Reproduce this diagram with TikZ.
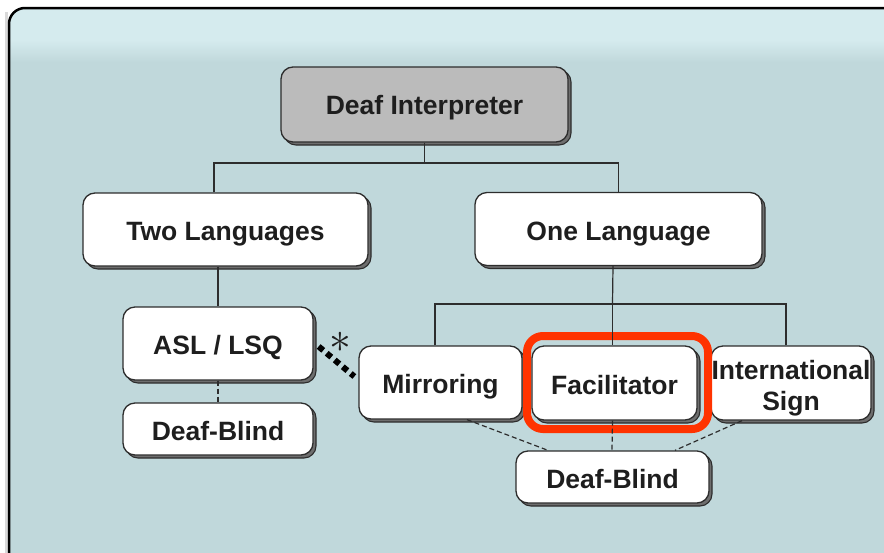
\documentclass[tikz,border=0pt]{standalone}
\usepackage{fontspec}
\setmainfont{Liberation Sans}
\usetikzlibrary{shadows,calc}
\definecolor{bgmain}{RGB}{192,216,219}
\definecolor{bgtop}{RGB}{213,235,238}
\definecolor{boxline}{RGB}{45,45,45}
\definecolor{boxshadow}{RGB}{110,110,110}
\definecolor{topgray}{RGB}{187,187,187}
\definecolor{hilite}{RGB}{255,51,0}
\definecolor{txt}{RGB}{30,30,30}
\tikzset{
  box/.style={draw=boxline, line width=1.3pt, fill=white, rounded corners=12pt,
    inner sep=0pt, text=txt, text height=22pt, text depth=0pt,
    font=\bfseries\fontsize{26.5}{31}\selectfont, align=center,
    general shadow={shadow xshift=3pt, shadow yshift=-3pt, fill=boxshadow,
      draw=boxline, line width=1.1pt}},
  link/.style={draw=boxline, line width=1.2pt},
  dlink/.style={draw=boxline, line width=1.2pt, dash pattern=on 5pt off 3pt},
}
\begin{document}
\begin{tikzpicture}[x=1pt,y=-1pt]
\useasboundingbox (0,0) rectangle (884,552);
% backdrop panel with a lighter band along its top
\begin{scope}
  \clip[rounded corners=16pt] (9,580) -- (9,8) -- (905,8) -- (905,580) -- cycle;
  \fill[bgmain] (0,0) rectangle (905,580);
  \fill[bgtop] (0,0) rectangle (905,40);
  \shade[top color=bgtop, bottom color=bgmain] (0,40) rectangle (905,62);
\end{scope}
\draw[black!15, line width=3pt, rounded corners=16pt] (6,580) -- (6,12);
\draw[black, line width=2.5pt, rounded corners=16pt] (9,580) -- (9,8) -- (905,8) -- (905,580);

% boxes
\node[box, fill=topgray, text height=19pt, minimum width=287pt, minimum height=75pt] (di) at (424.5,104.5) {Deaf Interpreter};
\node[box, minimum width=285pt, minimum height=73pt] (tl) at (225.5,229.5) {Two Languages};
\node[box, minimum width=287pt, minimum height=73pt] (ol) at (618.5,229) {One Language};
\node[box, minimum width=190pt, minimum height=73pt] (asl) at (218,343.5) {ASL / LSQ};
\node[box, minimum width=190pt, minimum height=52pt] (dbl) at (218,429) {Deaf-Blind};
\node[box, minimum width=163pt, minimum height=73pt] (mir) at (440.5,382.5) {Mirroring};
\node[box, minimum width=165pt, minimum height=74pt] (fac) at (614.5,383) {Facilitator};
\node[box, text height=55pt, text depth=0pt, minimum width=160pt, minimum height=74pt] (isg) at (791,383) {International\\Sign};
\node[box, minimum width=193pt, minimum height=52pt] (dbr) at (612.5,477) {Deaf-Blind};

% highlight around Facilitator
\node[draw=hilite, line width=8pt, rounded corners=16pt, minimum width=181pt,
  minimum height=93pt, inner sep=0pt] (hl) at (617.5,382.5) {};

% tree connectors
\coordinate (j1) at (424.5,163);
\coordinate (j2) at (612.5,304);
\draw[link] (di.south) -- (j1);
\draw[link] ([xshift=-11.5pt]tl.north) |- (j1);
\draw[link] (ol.north) |- (j1);
\draw[link] (asl.north) -- (asl.north |- tl.south);
\draw[link] ([xshift=-5.5pt]ol.south) -- (j2);
\draw[link] ([xshift=-5.5pt]mir.north) |- (j2);
\draw[link] (j2) -- (j2 |- fac.north);
\draw[link] ([xshift=-5pt]isg.north) |- (j2);

% dashed links to the Deaf-Blind boxes
\draw[dlink] (asl.south) -- (dbl.north);
\draw[dlink] ([xshift=26.5pt]mir.south) -- ([xshift=-64.5pt]dbr.north);
\draw[dlink] ([xshift=-2pt]fac.south) -- ([xshift=-0.5pt]dbr.north);
\draw[dlink] ([xshift=-49pt]isg.south) -- ([xshift=62.5pt]dbr.north);

% heavy dotted link between ASL / LSQ and Mirroring
\draw[black, line width=6pt, dash pattern=on 6pt off 4.5pt]
  ([xshift=5pt,yshift=-3pt]asl.east) -- ([xshift=-4pt,yshift=6pt]mir.west);
\node[text=txt, inner sep=0pt, scale=2.1, font=\fontsize{20}{20}\selectfont] (ast) at (340,342) {$\ast$};
\end{tikzpicture}
\end{document}
